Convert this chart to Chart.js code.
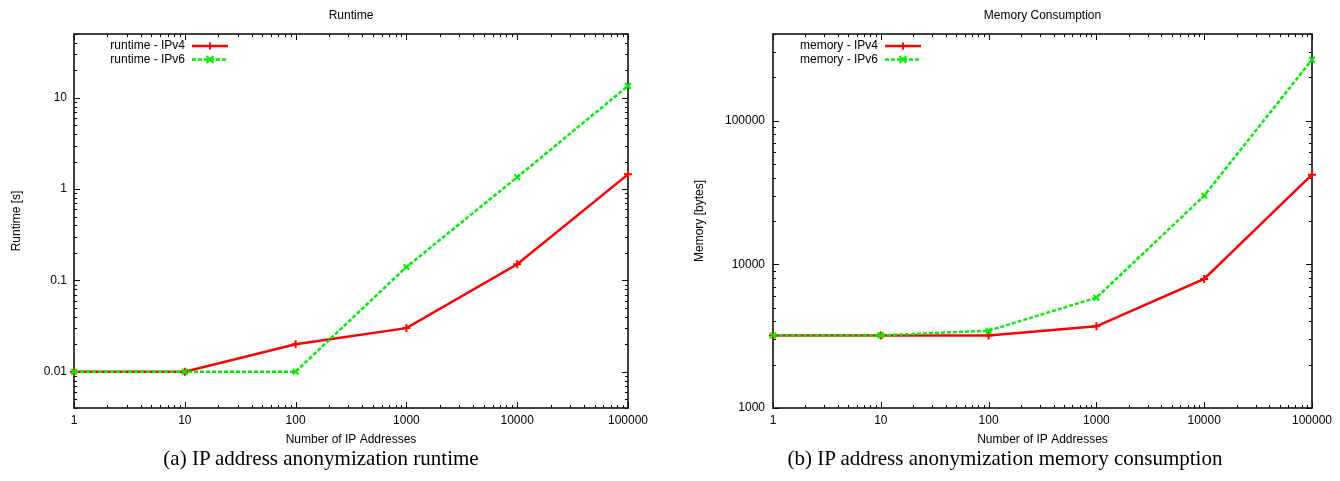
<!DOCTYPE html>
<html lang="en">
<head>
    <meta charset="UTF-8" />
    <title>IP address anonymization</title>
    <script src="https://cdn.jsdelivr.net/npm/chart.js"></script>
    <style>
        body {
            margin: 0;
            background: #fff;
            width: 1340px;
            height: 481px;
            position: relative;
            overflow: hidden;
        }
        .panel {
            position: absolute;
            top: 0;
            width: 670px;
            height: 452px;
        }
        .caption {
            position: absolute;
            top: 446px;
            width: 500px;
            font-family: 'Liberation Serif', 'Times New Roman', serif;
            font-size: 21px;
            line-height: 24px;
            text-align: center;
            white-space: nowrap;
            color: #000;
        }
    </style>
</head>
<body>
<div class="panel" style="left:0"><canvas id="runtimeChart"></canvas></div>
<div class="panel" style="left:670px"><canvas id="memoryChart"></canvas></div>
<div class="caption" style="left:71px">(a) IP address anonymization runtime</div>
<div class="caption" style="left:755px">(b) IP address anonymization memory consumption</div>
<script>
    // data
    const ipCounts = [1, 10, 100, 1000, 10000, 100000];
    const runtimeV4 = [0.01, 0.01, 0.02, 0.03, 0.15, 1.45];
    const runtimeV6 = [0.01, 0.01, 0.01, 0.14, 1.35, 13.5];
    const memoryV4 = [3200, 3200, 3200, 3700, 7900, 42000];
    const memoryV6 = [3200, 3200, 3450, 5850, 30000, 265000];

    // labelled ticks
    const xTicks = [1, 10, 100, 1000, 10000, 100000];
    const runtimeTicks = [0.01, 0.1, 1, 10];
    const memoryTicks = [1000, 10000, 100000];

    const font = { family: "'Liberation Sans', Arial, Helvetica, sans-serif", size: 12 };

    function fmt(v) {
        return String(Number(Number(v).toPrecision(6)));
    }

    function logMarks(min, max) {
        const out = [];
        for (let e = Math.floor(Math.log10(min)); e <= Math.ceil(Math.log10(max)); e++) {
            for (let m = 1; m < 10; m++) {
                const v = m * Math.pow(10, e);
                if (v >= min * 0.999 && v <= max * 1.001) out.push({ v: v, major: m === 1 });
            }
        }
        return out;
    }

    function drawMarker(ctx, style, x, y, r) {
        ctx.beginPath();
        if (style === 'cross') {
            ctx.moveTo(x - r, y); ctx.lineTo(x + r, y);
            ctx.moveTo(x, y - r); ctx.lineTo(x, y + r);
        } else {
            ctx.moveTo(x - r, y - r); ctx.lineTo(x + r, y + r);
            ctx.moveTo(x - r, y + r); ctx.lineTo(x + r, y - r);
        }
        ctx.stroke();
    }

    // gnuplot look: border box, inward mirrored ticks, title, key
    const gnuplotFrame = {
        id: 'gnuplotFrame',
        beforeDatasetsDraw(chart) {
            const { ctx, chartArea: a, scales } = chart;
            ctx.save();
            ctx.strokeStyle = '#000';
            ctx.lineWidth = 1;
            logMarks(scales.x.min, scales.x.max).forEach(t => {
                const px = Math.round(scales.x.getPixelForValue(t.v)) + 0.5;
                const len = t.major ? 6 : 3;
                ctx.beginPath();
                ctx.moveTo(px, a.bottom); ctx.lineTo(px, a.bottom - len);
                ctx.moveTo(px, a.top); ctx.lineTo(px, a.top + len);
                ctx.stroke();
            });
            logMarks(scales.y.min, scales.y.max).forEach(t => {
                const py = Math.round(scales.y.getPixelForValue(t.v)) + 0.5;
                const len = t.major ? 6 : 3;
                ctx.beginPath();
                ctx.moveTo(a.left, py); ctx.lineTo(a.left + len, py);
                ctx.moveTo(a.right, py); ctx.lineTo(a.right - len, py);
                ctx.stroke();
            });
            ctx.lineWidth = 1.6;
            ctx.strokeStyle = '#111';
            ctx.strokeRect(a.left, a.top, a.right - a.left, a.bottom - a.top);
            ctx.restore();
        },
        afterDraw(chart, args, opts) {
            const { ctx, chartArea: a } = chart;
            ctx.save();
            ctx.fillStyle = '#000';
            ctx.font = font.size + 'px ' + font.family;
            ctx.textAlign = 'center';
            ctx.textBaseline = 'middle';
            ctx.fillText(opts.title, (a.left + a.right) / 2, 16);

            ctx.textAlign = 'right';
            chart.data.datasets.forEach((ds, i) => {
                const y = 46 + i * 13.5;
                const tx = a.left + opts.keyText;
                ctx.fillStyle = '#000';
                ctx.fillText(ds.label, tx, y);
                const x0 = tx + 7, x1 = tx + 43;
                ctx.strokeStyle = ds.borderColor;
                ctx.lineWidth = ds.borderWidth;
                ctx.setLineDash(ds.borderDash || []);
                ctx.beginPath();
                ctx.moveTo(x0, y); ctx.lineTo(x1, y);
                ctx.stroke();
                ctx.setLineDash([]);
                ctx.lineWidth = 2;
                drawMarker(ctx, ds.pointStyle, (x0 + x1) / 2, y, 3.5);
            });
            ctx.restore();
        }
    };

    function makeChart(id, cfg) {
        const ctx = document.getElementById(id).getContext('2d');
        return new Chart(ctx, {
            type: 'line',
            data: {
                datasets: [{
                    label: cfg.labels[0],
                    data: ipCounts.map((x, i) => ({ x: x, y: cfg.v4[i] })),
                    borderColor: '#ff0000',
                    backgroundColor: '#ff0000',
                    borderWidth: 2.5,
                    pointStyle: 'cross',
                    pointRadius: 4,
                    pointBorderWidth: 2,
                    tension: 0,
                    clip: false,
                    order: 1
                }, {
                    label: cfg.labels[1],
                    data: ipCounts.map((x, i) => ({ x: x, y: cfg.v6[i] })),
                    borderColor: '#00f000',
                    backgroundColor: '#00f000',
                    borderWidth: 2.5,
                    borderDash: [4, 2],
                    pointStyle: 'crossRot',
                    pointRadius: 4,
                    pointBorderWidth: 2,
                    tension: 0,
                    clip: false,
                    order: 0
                }]
            },
            options: {
                responsive: true,
                maintainAspectRatio: false,
                animation: false,
                layout: { padding: { top: 34, right: cfg.padRight, bottom: 3, left: 0 } },
                plugins: {
                    legend: { display: false },
                    tooltip: { enabled: false },
                    gnuplotFrame: { title: cfg.title, keyText: cfg.keyText }
                },
                scales: {
                    x: {
                        type: 'logarithmic',
                        min: 1,
                        max: 100000,
                        grid: { display: false, drawTicks: false },
                        border: { display: false },
                        ticks: { color: '#000', font: font, padding: 5, maxRotation: 0, autoSkip: false, callback: fmt },
                        title: { display: true, text: 'Number of IP Addresses', color: '#000', font: font, padding: { top: 0, bottom: 2 } },
                        afterBuildTicks: s => { s.ticks = xTicks.map(v => ({ value: v })); },
                        afterFit: s => { s.height = 41; }
                    },
                    y: {
                        type: 'logarithmic',
                        min: cfg.yMin,
                        max: cfg.yMax,
                        grid: { display: false, drawTicks: false },
                        border: { display: false },
                        ticks: { color: '#000', font: font, padding: cfg.yPad, autoSkip: false, callback: fmt },
                        title: { display: true, text: cfg.yTitle, color: '#000', font: font, padding: { top: cfg.yTitlePad, bottom: 0 } },
                        afterBuildTicks: s => { s.ticks = cfg.yTicks.map(v => ({ value: v })); },
                        afterFit: s => { s.width = cfg.yWidth; }
                    }
                }
            },
            plugins: [gnuplotFrame]
        });
    }

    makeChart('runtimeChart', {
        title: 'Runtime',
        labels: ['runtime - IPv4', 'runtime - IPv6'],
        v4: runtimeV4,
        v6: runtimeV6,
        yMin: 0.004,
        yMax: 50,
        yTicks: runtimeTicks,
        yTitle: 'Runtime [s]',
        yWidth: 74,
        yPad: 7,
        yTitlePad: 9,
        padRight: 42,
        keyText: 111
    });

    makeChart('memoryChart', {
        title: 'Memory Consumption',
        labels: ['memory - IPv4', 'memory - IPv6'],
        v4: memoryV4,
        v6: memoryV6,
        yMin: 1000,
        yMax: 400000,
        yTicks: memoryTicks,
        yTitle: 'Memory [bytes]',
        yWidth: 103,
        yPad: 8,
        yTitlePad: 22,
        padRight: 28,
        keyText: 105
    });
</script>
</body>
</html>
